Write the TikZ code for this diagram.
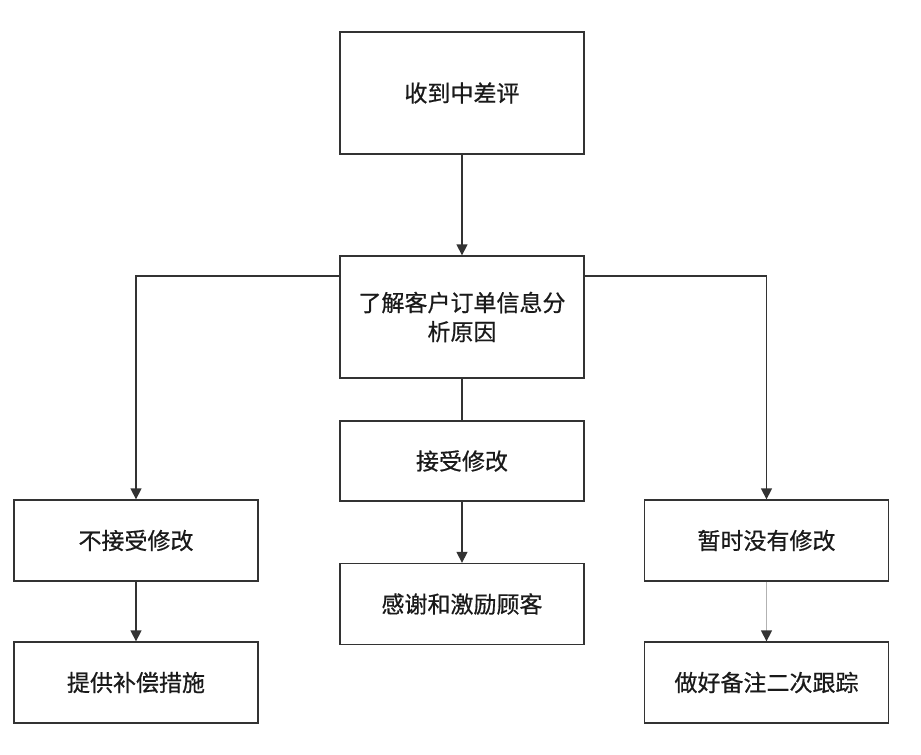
\documentclass[tikz,border=0pt]{standalone}
\usepackage{fontspec}
\newfontfamily\cjk[FakeBold=0.6]{Noto Sans CJK SC}
\usetikzlibrary{arrows.meta}
\definecolor{linec}{HTML}{333333}
\definecolor{textc}{HTML}{1A1A1A}
\tikzset{
  box/.style={draw=linec, line width=1.3pt, fill=white, minimum width=244pt, inner sep=0pt,
    font=\cjk\fontsize{23}{29}\selectfont, text=textc, align=center},
  tall/.style={minimum height=122pt},
  short/.style={minimum height=81pt},
  conn/.style={draw=linec, line width=1.3pt},
  arr/.style={conn, -{Triangle[length=11pt,width=11pt]}},
}
\begin{document}
\begin{tikzpicture}[x=1pt,y=-1pt]
\useasboundingbox (0,0) rectangle (921,755);
\node[box,tall] (b1) at (462,93) {收到中差评};
\node[box,tall] (b2) at (462,317) {了解客户订单信息分\\析原因};
\node[box,short,minimum height=80pt] (b3) at (462,461) {接受修改};
\node[box,short] (b4) at (462,604) {感谢和激励顾客};
\node[box,short] (b5) at (136,540.5) {不接受修改};
\node[box,short] (b6) at (136,682.5) {提供补偿措施};
\node[box,short] (b7) at (766.5,540.5) {暂时没有修改};
\node[box,short] (b8) at (766.5,682.5) {做好备注二次跟踪};
\draw[arr] (b1) -- (b2);
\draw[conn] (b2) -- (b3);
\draw[arr] (b3) -- (b4);
\draw[arr] ([yshift=41pt]b2.west) -| (b5.north);
\draw[arr] ([yshift=41pt]b2.east) -| (b7.north);
\draw[arr] (b5) -- (b6);
\draw[conn, draw=gray!60, -{Triangle[length=11pt,width=11pt,color=linec]}] (b7) -- (b8);
\end{tikzpicture}
\end{document}
